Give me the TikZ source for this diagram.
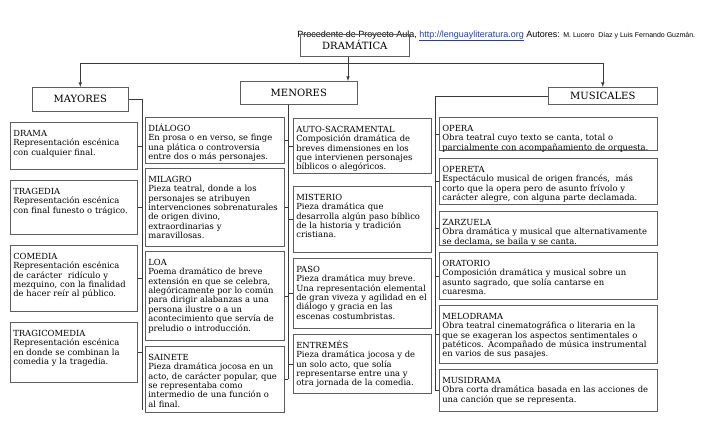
\documentclass[tikz,border=0pt]{standalone}
\usepackage{fontspec}
\setmainfont{DejaVu Serif}
\newfontfamily\headfont{Liberation Sans}
\definecolor{boxgray}{HTML}{5E5E5E}
\definecolor{wire}{HTML}{3A3A3A}
\definecolor{linkblue}{HTML}{1F3FBF}
\begin{document}
\begin{tikzpicture}[x=1pt, y=-1pt, line width=0.6pt,
  every node/.style={font=\fontsize{8.4}{9.4}\selectfont},
  cell/.style={draw=boxgray, anchor=north west, align=left, inner xsep=3pt, inner ysep=4pt, text height=10pt},
  tall/.style={text depth=#1pt-18pt},
  side/.style={cell, text width=121pt},
  lesser/.style={cell, text width=133pt},
  lesser2/.style={cell, text width=132pt},
  music/.style={cell, text width=212pt},
  head/.style={draw=boxgray, anchor=north west, inner sep=0pt, font=\fontsize{10}{12}\selectfont},
  wires/.style={draw=wire}]
  \useasboundingbox (0,0) rectangle (728,442);
  % source line and root
  \node[anchor=base west, inner sep=0pt, font=\headfont\fontsize{9}{10}\selectfont] (src) at (297,37)
    {Procedente de Proyecto Aula, \textcolor{linkblue}{\underline{http://lenguayliteratura.org}} Autores: {\fontsize{7}{8}\selectfont M. Lucero\ \ Díaz y Luis Fernando Guzmán.}};
  \node[head, minimum width=109, minimum height=22] (dram) at (300,34) {DRAMÁTICA};
  % three groups
  \node[head, minimum width=96, minimum height=24] (may) at (32,87) {MAYORES};
  \node[head, minimum width=117, minimum height=23] (men) at (240,81) {MENORES};
  \node[head, minimum width=109, minimum height=17] (mus) at (548,87) {MUSICALES};
  % mayores
  \node[side, tall=47] (drama) at (10,122) {DRAMA\\Representación escénica\\con cualquier final.};
  \node[side, tall=54] (trag) at (10,180) {TRAGEDIA\\Representación escénica\\con final funesto o trágico.};
  \node[side, tall=66] (com) at (10,245) {COMEDIA\\Representación escénica\\de carácter\ \ ridículo y\\mezquino, con la finalidad\\de hacer reír al público.};
  \node[side, tall=60] (tragi) at (10,322) {TRAGICOMEDIA\\Representación escénica\\en donde se combinan la\\comedia y la tragedia.};
  % menores, first column
  \node[lesser, tall=46] (dial) at (145,117) {DIÁLOGO\\En prosa o en verso, se finge\\una plática o controversia\\entre dos o más personajes.};
  \node[lesser, tall=78] (mil) at (145,168) {MILAGRO\\Pieza teatral, donde a los\\personajes se atribuyen\\intervenciones sobrenaturales\\de origen divino,\\extraordinarias y\\maravillosas.};
  \node[lesser, tall=89] (loa) at (145,251) {LOA\\Poema dramático de breve\\extensión en que se celebra,\\alegóricamente por lo común\\para dirigir alabanzas a una\\persona ilustre o a un\\acontecimiento que servía de\\preludio o introducción.};
  \node[lesser, tall=66] (sain) at (145,346) {SAINETE\\Pieza dramática jocosa en un\\acto, de carácter popular, que\\se representaba como\\intermedio de una función o\\al final.};
  % menores, second column
  \node[lesser2, tall=55] (auto) at (293,118) {AUTO-SACRAMENTAL\\Composición dramática de\\breves dimensiones en los\\que intervienen personajes\\bíblicos o alegóricos.};
  \node[lesser2, tall=66] (mist) at (293,186) {MISTERIO\\Pieza dramática que\\desarrolla algún paso bíblico\\de la historia y tradición\\cristiana.};
  \node[lesser2, tall=70] (paso) at (293,258) {PASO\\Pieza dramática muy breve.\\Una representación elemental\\de gran viveza y agilidad en el\\diálogo y gracia en las\\escenas costumbristas.};
  \node[lesser2, tall=59] (entr) at (293,334) {ENTREMÉS\\Pieza dramática jocosa y de\\un solo acto, que solía\\representarse entre una y\\otra jornada de la comedia.};
  % musicales
  \node[music, tall=33] (opera) at (439,117) {OPERA\\Obra teatral cuyo texto se canta, total o\\parcialmente con acompañamiento de orquesta.};
  \node[music, tall=46] (oper) at (439,158) {OPERETA\\Espectáculo musical de origen francés,\ \ más\\corto que la opera pero de asunto frívolo y\\carácter alegre, con alguna parte declamada.};
  \node[music, tall=34] (zarz) at (439,211) {ZARZUELA\\Obra dramática y musical que alternativamente\\se declama, se baila y se canta.};
  \node[music, tall=47] (orat) at (439,252) {ORATORIO\\Composición dramática y musical sobre un\\asunto sagrado, que solía cantarse en\\cuaresma.};
  \node[music, tall=58] (melo) at (439,305) {MELODRAMA\\Obra teatral cinematográfica o literaria en la\\que se exageran los aspectos sentimentales o\\patéticos. Acompañado de música instrumental\\en varios de sus pasajes.};
  \node[music, tall=42] (musi) at (439,369) {MUSIDRAMA\\Obra corta dramática basada en las acciones de\\una canción que se representa.};
  % arrows from the root
  \coordinate (split) at (348,63);
  \draw[wires, -latex] (dram.south -| split) -- (men.north -| split);
  \draw[wires, latex-latex] (may.north) -- (may.north |- split) -- (mus.north |- split) -- (mus.north);
  % buses
  \coordinate (maybus) at (142,410);
  \coordinate (menbus) at (288,0);
  \coordinate (musbus) at (435,0);
  \draw[wires] (may.east) -| (maybus);
  \foreach \n in {drama,trag,com,tragi}
    \draw[wires] (\n.east) -- (\n.east -| maybus);
  \draw[wires] (men.south -| menbus) -- (sain.east -| menbus);
  \foreach \n in {dial,mil,loa,sain}
    \draw[wires] (\n.east) -- (\n.east -| menbus);
  \foreach \n in {auto,mist,paso,entr}
    \draw[wires] (\n.west) -- (\n.west -| menbus);
  \draw[wires] (mus.west) -| (musi.west -| musbus);
  \foreach \n in {opera,oper,zarz,orat,melo,musi}
    \draw[wires] (\n.west) -- (\n.west -| musbus);
\end{tikzpicture}
\end{document}
